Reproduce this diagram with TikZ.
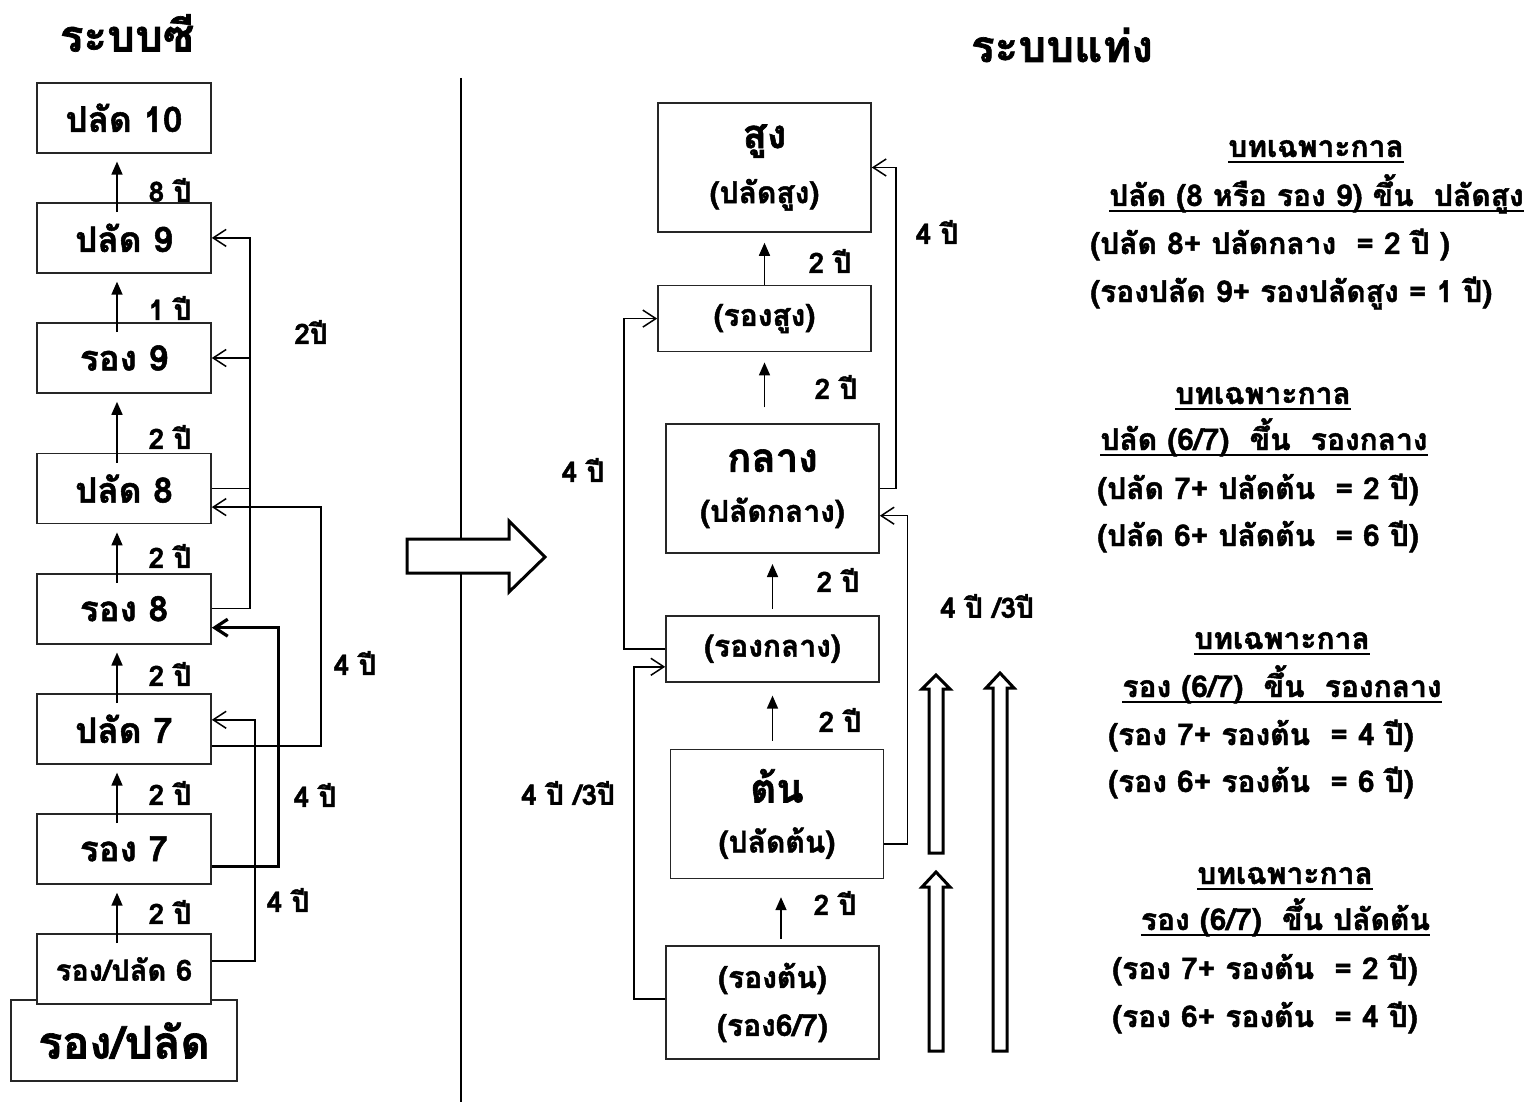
\documentclass[tikz,border=0pt]{standalone}
\usepackage{fontspec}
\setmainfont[Script=Thai, BoldFeatures={FakeBold=1.5}]{Loma}
\usetikzlibrary{arrows.meta, positioning}
\newcommand\thsize[1]{\fontsize{#1}{#1}\selectfont}

\begin{document}
\begin{tikzpicture}[
x = 1pt, y = -1pt,
node distance = 48.5pt,
   box/.style = {draw=black!85, line width=1.6pt, fill=white, font=\bfseries\thsize{35},
                 minimum width=174pt, minimum height=70pt, inner sep=0pt, align=center},
  rbox/.style = {box, minimum width=213pt, font=\bfseries\thsize{30}},
   lbl/.style = {font=\bfseries\thsize{28}, inner sep=0pt},
   txt/.style = {font=\bfseries\thsize{30}, inner sep=0pt},
    ul/.style = {append after command={([yshift=-5pt]\tikzlastnode.base west)
                 edge[draw, line width=2.4pt] ([yshift=-5pt]\tikzlastnode.base east)}},
          > = {Triangle[length=13pt,width=11pt]},
  rise/.style = {->, line width=1.6pt},
  link/.style = {line width=1.5pt, -{Straight Barb[length=13pt,width=17pt]}},
hollow/.style = {line width=3pt, fill=white, miter limit=4},
         ]
\useasboundingbox (0,0) rectangle (1540,1102);

% titles
\node (t1) [font=\bfseries\thsize{44}] at (127,33) {ระบบซี};
\node (t2) [font=\bfseries\thsize{44}] at (1062,45) {ระบบแท่ง};

% left column
\node (rp)  [box, minimum width=226pt, minimum height=81pt, font=\bfseries\thsize{45}]
            at (124,1040.5) {รอง/ปลัด};
\node (r6)  [box, font=\bfseries\thsize{29}] at (124,969) {รอง/ปลัด 6};
\node (r7)  [box, above=of r6] {รอง~7};
\node (p7)  [box, above=of r7] {ปลัด 7};
\node (r8)  [box, above=of p7] {รอง 8};
\node (p8)  [box, above=of r8] {ปลัด 8};
\node (r9)  [box, above=59pt of p8] {รอง 9};
\node (p9)  [box, above=of r9] {ปลัด 9};
\node (p10) [box, above=of p9] {ปลัด 10};

\draw[rise, shorten <=-10pt, shorten >=8pt] ([xshift=-7pt]r6.north) -- ([xshift=-7pt]r7.south);
\draw[rise, shorten <=-10pt, shorten >=8pt] ([xshift=-7pt]r7.north) -- ([xshift=-7pt]p7.south);
\draw[rise, shorten <=-10pt, shorten >=8pt] ([xshift=-7pt]p7.north) -- ([xshift=-7pt]r8.south);
\draw[rise, shorten <=-10pt, shorten >=8pt] ([xshift=-7pt]r8.north) -- ([xshift=-7pt]p8.south);
\draw[rise, shorten <=-10pt, shorten >=8pt] ([xshift=-7pt]p8.north) -- ([xshift=-7pt]r9.south);
\draw[rise, shorten <=-10pt, shorten >=8pt] ([xshift=-7pt]r9.north) -- ([xshift=-7pt]p9.south);
\draw[rise, shorten <=-10pt, shorten >=8pt] ([xshift=-7pt]p9.north) -- ([xshift=-7pt]p10.south);

\node (y1) [lbl] at (170,190) {8 ปี};
\node (y2) [lbl] at (170,308) {1 ปี};
\node (y3) [lbl] at (170,437) {2 ปี};
\node (y4) [lbl] at (170,556) {2 ปี};
\node (y5) [lbl] at (170,674) {2 ปี};
\node (y6) [lbl] at (170,793) {2 ปี};
\node (y7) [lbl] at (170,912) {2 ปี};

\draw[link] (r8.east) -- ++(38,0) |- (p9.east);
\draw[link] (p8.east) -- ++(38,0) |- (r9.east);
\draw[link] ([yshift=-17pt]p7.east) -- ++(109,0) |- ([yshift=-18.5pt]p8.east);
\draw[link, line width=3.2pt] ([yshift=-17.5pt]r7.east) -- ++(67,0) |- ([yshift=-19pt]r8.east);
\draw[link] ([yshift=8pt]r6.east) -- ++(43,0) |- ([yshift=9pt]p7.east);

\node (z1) [lbl] at (311,332) {2ปี};
\node (z2) [lbl] at (355,663) {4 ปี};
\node (z3) [lbl] at (315,795) {4 ปี};
\node (z4) [lbl] at (288,900) {4 ปี};

% divider and big arrow
\draw[line width=1.5pt] (461,78) -- (461,1102);
\draw[hollow] (407,539) -- (509,539) -- (509,521) -- (545,557) -- (509,592)
              -- (509,573) -- (407,573) -- cycle;

% right column
\node (sg) [rbox, minimum height=129pt] at (764.5,167.5)
           {\thsize{40}สูง\\[20pt]\thsize{30}(ปลัดสูง)};
\node (rs) [rbox, minimum height=66pt, below=52pt of sg] {(รองสูง)};
\node (kl) [rbox, minimum height=129pt, below=71pt of rs, xshift=8pt]
           {\thsize{40}กลาง\\[20pt]\thsize{30}(ปลัดกลาง)};
\node (rk) [rbox, minimum height=66pt, below=61pt of kl] {(รองกลาง)};
\node (tn) [rbox, minimum height=129pt, below=66pt of rk, xshift=4.5pt]
           {\thsize{40}ต้น\\[20pt]\thsize{30}(ปลัดต้น)};
\node (rt) [rbox, minimum height=113pt, below=66pt of tn, xshift=-4.5pt]
           {(รองต้น)\\[18pt](รอง6/7)};

\draw[rise, shorten >=10pt] (rs.north) -- (sg.south);
\draw[rise, shorten <=16pt, shorten >=10pt] (rs.south |- kl.north) -- (rs.south);
\draw[rise, shorten <=6pt, shorten >=10pt] (rk.north) -- (kl.south);
\draw[rise, shorten <=8pt, shorten >=13pt] (rk.south |- tn.north) -- (rk.south);
\draw[rise, shorten <=6pt, shorten >=18pt] ([xshift=4pt]tn.south |- rt.north) -- ([xshift=4pt]tn.south);

\node (v1) [lbl] at (830,261) {2 ปี};
\node (v2) [lbl] at (836,387) {2 ปี};
\node (v3) [lbl] at (838,580) {2 ปี};
\node (v4) [lbl] at (840,720) {2 ปี};
\node (v5) [lbl] at (835,903) {2 ปี};

\draw[link] (rk.west) -- ++(-41,0) |- (rs.west);
\draw[link] ([yshift=3.5pt]rt.west) -- ++(-31,0) |- ([yshift=-18pt]rk.west);
\draw[link] (kl.east) -- ++(16,0) |- (sg.east);
\draw[link] ([yshift=-30pt]tn.east) -- ++(23,0) |- ([yshift=-27pt]kl.east);

\node (w1) [lbl] at (583,470) {4 ปี};
\node (w2) [lbl] at (568,793) {4 ปี~/3ปี};
\node (w3) [lbl] at (937,232) {4 ปี};
\node (w4) [lbl] at (987,606) {4 ปี~/3ปี};

% hollow up arrows
\draw[hollow] (929,853) -- (929,689) -- (922,689) -- (936,675) -- (950,689)
              -- (943,689) -- (943,853) -- cycle;
\draw[hollow] (929,1051) -- (929,887) -- (922,887) -- (936,872) -- (950,887)
              -- (943,887) -- (943,1051) -- cycle;
\draw[hollow] (993,1051) -- (993,688) -- (986,688) -- (1000,673) -- (1014,688)
              -- (1007,688) -- (1007,1051) -- cycle;

% notes
\node (h1) [txt, ul, anchor=base] at (1316,157) {บทเฉพาะกาล};
\node (c1) [txt, ul, anchor=base] at (1316.5,206) {ปลัด (8 หรือ รอง 9)~ขึ้น~~ปลัดสูง};
\node (a1) [txt, anchor=base west] at (1090,254) {(ปลัด 8+ ปลัดกลาง~~= 2 ปี )};
\node (b1) [txt, anchor=base west] at (1090,302) {(รองปลัด 9+ รองปลัดสูง = 1 ปี)};

\node (h2) [txt, ul, anchor=base] at (1263,404) {บทเฉพาะกาล};
\node (c2) [txt, ul, anchor=base] at (1264,450) {ปลัด (6/7)~~ขึ้น~~รองกลาง};
\node (a2) [txt, anchor=base west] at (1097,499) {(ปลัด 7+ ปลัดต้น~~= 2 ปี)};
\node (b2) [txt, anchor=base west] at (1097,546) {(ปลัด 6+ ปลัดต้น~~= 6 ปี)};

\node (h3) [txt, ul, anchor=base] at (1282,649) {บทเฉพาะกาล};
\node (c3) [txt, ul, anchor=base] at (1282,697) {รอง (6/7)~~ขึ้น~~รองกลาง};
\node (a3) [txt, anchor=base west] at (1108,745) {(รอง 7+ รองต้น~~= 4 ปี)};
\node (b3) [txt, anchor=base west] at (1108,792) {(รอง 6+ รองต้น~~= 6 ปี)};

\node (h4) [txt, ul, anchor=base] at (1285,884) {บทเฉพาะกาล};
\node (c4) [txt, ul, anchor=base] at (1285.5,930) {รอง (6/7)~~ขึ้น ปลัดต้น};
\node (a4) [txt, anchor=base west] at (1112,979) {(รอง 7+ รองต้น~~= 2 ปี)};
\node (b4) [txt, anchor=base west] at (1112,1027) {(รอง 6+ รองต้น~~= 4 ปี)};
\end{tikzpicture}
\end{document}
